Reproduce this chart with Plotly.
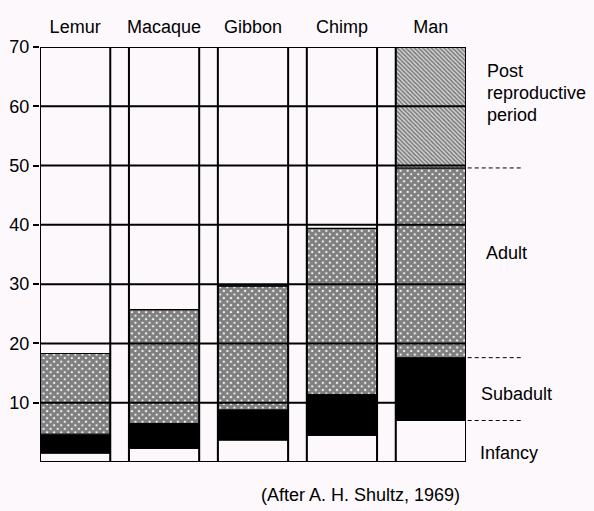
import numpy as np
import plotly.graph_objects as go

# ---- data (years) ----
species = ["Lemur", "Macaque", "Gibbon", "Chimp", "Man"]
infancy = [1.5, 2.3, 3.7, 4.5, 7.0]
subadult = [3.2, 4.2, 5.1, 6.9, 10.6]
adult = [13.6, 19.2, 20.9, 28.0, 32.0]
post_repro = [0.0, 0.0, 0.0, 0.0, 20.4]
y_ticks = [10, 20, 30, 40, 50, 60, 70]
y_max = 70
stage_labels = ["Post", "reproductive", "period", "Adult", "Subadult", "Infancy"]
source_note = "(After A. H. Shultz, 1969)"

BG = "#fcf8fc"
FONT = "Liberation Sans, Arial, sans-serif"

segments = [infancy, subadult, adult, post_repro]
bases = np.vstack([np.zeros(len(species)), np.cumsum(np.array(segments), axis=0)[:-1]])

styles = [
    dict(color=BG, pattern=None),
    dict(color="black", pattern=None),
    dict(color=BG, pattern=dict(shape="x", fgcolor="black", bgcolor="white", size=5, solidity=0.85)),
    dict(color=BG, pattern=dict(shape="\\", fgcolor="#1a1a1a", bgcolor="#d4d4d4", size=3, solidity=0.5)),
]

fig = go.Figure()
for seg, base, st in zip(segments, bases, styles):
    marker = dict(color=st["color"], line=dict(color="black", width=1))
    if st["pattern"]:
        marker["pattern"] = st["pattern"]
    fig.add_trace(go.Bar(x=species, y=seg, base=base, marker=marker, width=0.79,
                         showlegend=False, hoverinfo="skip"))

# column frames
fig.add_trace(go.Bar(x=species, y=[y_max] * len(species), width=0.79,
                     marker=dict(color="rgba(0,0,0,0)", line=dict(color="black", width=2)),
                     showlegend=False, hoverinfo="skip"))

# horizontal rules across the whole chart (above bars)
for v in [0] + y_ticks:
    fig.add_shape(type="line", xref="paper", yref="y", x0=0, x1=1, y0=v, y1=v,
                  line=dict(color="black", width=2), layer="above")

# dashed stage boundaries to the right of "Man"
man_bounds = np.cumsum([infancy[-1], subadult[-1], adult[-1]])
for v in man_bounds:
    fig.add_shape(type="line", xref="paper", yref="y", x0=1.004, x1=1.13, y0=v, y1=v,
                  line=dict(color="black", width=1, dash="4px,3px"))

# stage labels
label_pos = [(485, 71), (485, 93), (485, 115), (484, 253), (479, 394), (478, 453)]
W, H = 594, 511
L, R, T, B = 40, 128, 47, 49
for text, (px, py) in zip(stage_labels, label_pos):
    fig.add_annotation(text=text, xref="paper", yref="paper",
                       x=(px - L) / (W - L - R), y=1 - (py - T) / (H - T - B),
                       xanchor="left", yanchor="middle", showarrow=False,
                       font=dict(family=FONT, size=18, color="black"))

fig.add_annotation(text=source_note, xref="paper", yref="paper",
                   x=(462 - L) / (W - L - R), y=1 - (495 - T) / (H - T - B),
                   xanchor="right", yanchor="middle", showarrow=False,
                   font=dict(family=FONT, size=18, color="black"))

fig.update_layout(
    width=W, height=H,
    margin=dict(l=L, r=R, t=T, b=B, autoexpand=False),
    paper_bgcolor=BG, plot_bgcolor=BG,
    barmode="overlay",
    xaxis=dict(side="top", range=[-0.395, 4.395], showgrid=False, showline=False,
               automargin=False, ticks="",
               tickfont=dict(family=FONT, size=18, color="black"), ticklabelstandoff=9),
    yaxis=dict(range=[0, y_max], tickvals=y_ticks, showgrid=False, zeroline=False,
               automargin=False, showline=False, ticks="outside", ticklen=6, tickwidth=2,
               tickcolor="black", tickfont=dict(family=FONT, size=18, color="black")),
)

fig.write_html("out.html", config={"displayModeBar": False},
               post_script="document.body.style.margin='0px';")
